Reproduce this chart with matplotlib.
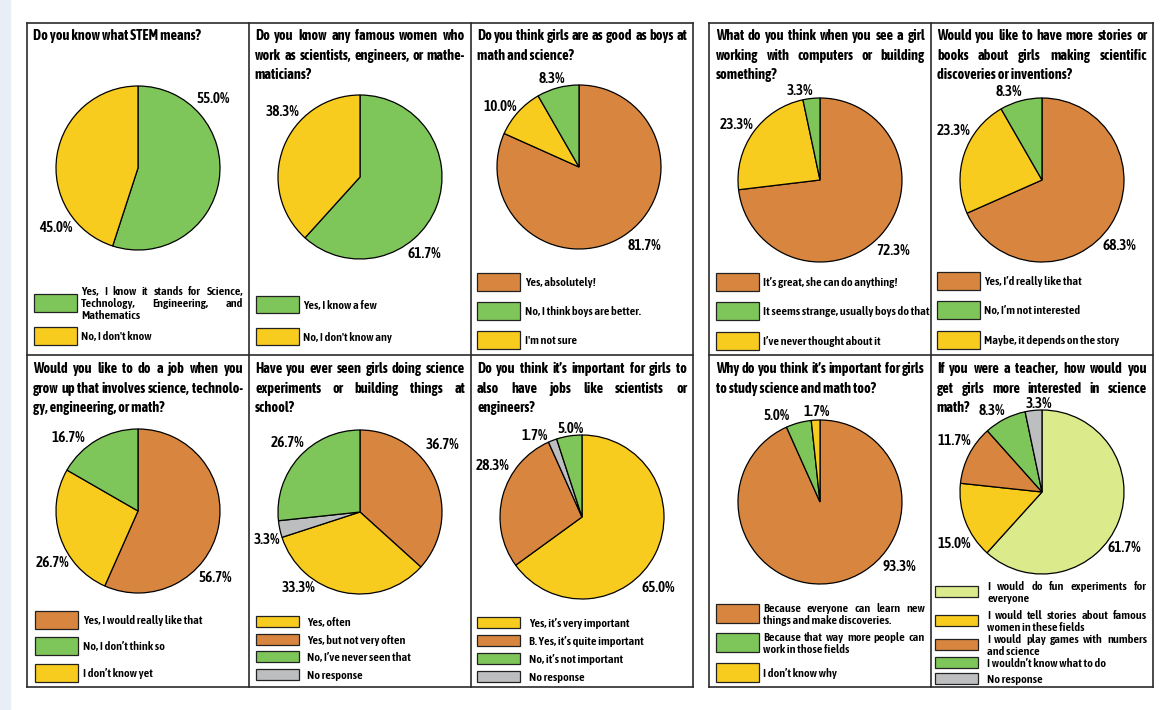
import matplotlib.pyplot as plt
from matplotlib.patches import Rectangle
from matplotlib.lines import Line2D

# ---- data (values in legend order) ----
stem_title = "Do you know what STEM means?"
stem_answers = ["Yes, I know it stands for Science,\nTechnology, Engineering, and\nMathematics", "No, I don't know"]
stem_values = [55.0, 45.0]

women_title = "Do you know any famous women who\nwork as scientists, engineers, or mathe-\nmaticians?"
women_answers = ["Yes, I know a few", "No, I don't know any"]
women_values = [61.7, 38.3]

good_title = "Do you think girls are as good as boys at\nmath and science?"
good_answers = ["Yes, absolutely!", "No, I think boys are better.", "I'm not sure"]
good_values = [81.7, 8.3, 10.0]

see_title = "What do you think when you see a girl\nworking with computers or building\nsomething?"
see_answers = ["It’s great, she can do anything!", "It seems strange, usually boys do that", "I’ve never thought about it"]
see_values = [72.3, 3.3, 23.3]

books_title = "Would you like to have more stories or\nbooks about girls making scientific\ndiscoveries or inventions?"
books_answers = ["Yes, I’d really like that", "No, I’m not interested", "Maybe, it depends on the story"]
books_values = [68.3, 8.3, 23.3]

job_title = "Would you like to do a job when you\ngrow up that involves science, technolo-\ngy, engineering, or math?"
job_answers = ["Yes, I would really like that", "No, I don’t think so", "I don’t know yet"]
job_values = [56.7, 16.7, 26.7]

school_title = "Have you ever seen girls doing science\nexperiments or building things at\nschool?"
school_answers = ["Yes, often", "Yes, but not very often", "No, I’ve never seen that", "No response"]
school_values = [33.3, 36.7, 26.7, 3.3]

important_title = "Do you think it’s important for girls to\nalso have jobs like scientists or\nengineers?"
important_answers = ["Yes, it’s very important", "B. Yes, it’s quite important", "No, it’s not important", "No response"]
important_values = [65.0, 28.3, 5.0, 1.7]

why_title = "Why do you think it’s important for girls\nto study science and math too?"
why_answers = ["Because everyone can learn new\nthings and make discoveries.", "Because that way more people can\nwork in those fields", "I don’t know why"]
why_values = [93.3, 5.0, 1.7]

teacher_title = "If you were a teacher, how would you\nget girls more interested in science\nmath?"
teacher_answers = ["I would do fun experiments for\neveryone", "I would tell stories about famous\nwomen in these fields", "I would play games with numbers\nand science", "I wouldn’t know what to do", "No response"]
teacher_values = [61.7, 15.0, 11.7, 8.3, 3.3]

# ---- style / layout ----
W, H = 1165, 710
OR, GR, YE, GY, LG = "#d8863f", "#7ec55a", "#f8cb1f", "#bdbec0", "#dbea8a"
FONT = ["Asap Condensed", "DejaVu Sans"]
R = 82

charts = [
    dict(title=stem_title, answers=stem_answers, values=stem_values, colors=[GR, YE], order=[0, 1],
         c=(138, 168), tx=(33, 243), ty=35, lab=[(75, -69), (-82, 60)],
         bx=34, tops=[294, 327], bh=18, txt=81),
    dict(title=women_title, answers=women_answers, values=women_values, colors=[GR, YE], order=[0, 1],
         c=(360, 177), tx=(255, 465), ty=35, lab=[(64, 77), (-77, -65)],
         bx=256, tops=[296, 328], bh=17, txt=303),
    dict(title=good_title, answers=good_answers, values=good_values, colors=[OR, GR, YE], order=[0, 2, 1],
         c=(579, 167), tx=(477, 687), ty=35, lab=[(65, 79), (-27, -88), (-79, -60)],
         bx=477, tops=[273, 302, 331], bh=18, txt=525),
    dict(title=see_title, answers=see_answers, values=see_values, colors=[OR, GR, YE], order=[0, 2, 1],
         c=(820, 180), tx=(716, 925), ty=35, lab=[(73, 71), (-20, -89), (-83, -55)],
         bx=716, tops=[273, 302, 332], bh=18, txt=763),
    dict(title=books_title, answers=books_answers, values=books_values, colors=[OR, GR, YE], order=[0, 2, 1],
         c=(1042, 180), tx=(937, 1147), ty=35, lab=[(77, 66), (-33, -88), (-88, -49)],
         bx=937, tops=[272, 301, 331], bh=18, txt=984),
    dict(title=job_title, answers=job_answers, values=job_values, colors=[OR, GR, YE], order=[0, 2, 1],
         c=(138, 511), tx=(33, 243), ty=368, lab=[(77, 67), (-70, -73), (-86, 52)],
         bx=35, tops=[611, 637, 664], bh=18, txt=83),
    dict(title=school_title, answers=school_answers, values=school_values, colors=[YE, OR, GR, GY], order=[1, 0, 3, 2],
         c=(360, 512), tx=(255, 465), ty=368, lab=[(-61, 76), (82, -67), (-73, -69), (-93, 28)],
         bx=256, tops=[616, 634, 651, 669], bh=11, txt=307),
    dict(title=important_title, answers=important_answers, values=important_values, colors=[YE, OR, GR, GY], order=[0, 1, 3, 2],
         c=(582, 517), tx=(477, 687), ty=368, lab=[(76, 71), (-89, -51), (-11, -88), (-47, -81)],
         bx=477, tops=[617, 635, 653, 671], bh=11, txt=529),
    dict(title=why_title, answers=why_answers, values=why_values, colors=[OR, GR, YE], order=[0, 1, 2],
         c=(820, 502), tx=(716, 925), ty=368, lab=[(79, 65), (-43, -86), (-3, -90)],
         bx=716, tops=[604, 633, 663], bh=19, txt=763),
    dict(title=teacher_title, answers=teacher_answers, values=teacher_values, colors=[LG, YE, OR, GR, GY], order=[0, 1, 2, 3, 4],
         c=(1042, 492), tx=(937, 1147), ty=368, lab=[(82, 56), (-88, 52), (-88, -51), (-50, -81), (-3, -88)],
         bx=935, tops=[586, 615, 639, 657, 673], bh=11, txt=987),
]

fig = plt.figure(figsize=(W / 100, H / 100), dpi=100)
fig.patch.set_facecolor("white")
renderer = fig.canvas.get_renderer()


def fx(x):
    return x / W


def fy(y):
    return 1 - y / H


def put_line(x0, x1, y, line, justify, fontsize, **kw):
    # y is the visual middle of the line; drop to the baseline so all words share it
    yb = fy(y + 0.35 * fontsize * 100 / 72)
    words = line.split()
    if not justify or len(words) < 2:
        fig.text(fx(x0), yb, line, ha="left", va="baseline", family=FONT, fontsize=fontsize, **kw)
        return
    arts = [fig.text(fx(x0), yb, w, ha="left", va="baseline", family=FONT, fontsize=fontsize, **kw)
            for w in words]
    widths = [a.get_window_extent(renderer).width for a in arts]
    gap = max((x1 - x0 - sum(widths)) / (len(words) - 1), 2)
    x = x0
    for a, w in zip(arts, widths):
        a.set_x(fx(x))
        x += w + gap


def put_block(x0, x1, yc, text, spacing, **kw):
    lines = text.split("\n")
    y = yc - spacing * (len(lines) - 1) / 2
    for i, ln in enumerate(lines):
        put_line(x0, x1, y, ln, i < len(lines) - 1, **kw)
        y += spacing


# background strip and panel frames
fig.patches.append(Rectangle((0, 0), fx(10), 1, transform=fig.transFigure, color="#e8eef6", zorder=0))


def hline(x0, x1, y):
    fig.add_artist(Line2D([fx(x0), fx(x1)], [fy(y), fy(y)], color="#2b2b2b", lw=1.2))


def vline(x, y0, y1):
    fig.add_artist(Line2D([fx(x), fx(x)], [fy(y0), fy(y1)], color="#2b2b2b", lw=1.2))


for (l, r, mids) in [(27, 693, [249, 471]), (709, 1153, [931])]:
    hline(l, r, 23)
    hline(l, r, 355)
    hline(l, r, 687)
    for x in [l, r] + mids:
        vline(x, 23, 687)

for ch in charts:
    cx, cy = ch["c"]
    # title
    lines = ch["title"].split("\n")
    for i, ln in enumerate(lines):
        put_line(ch["tx"][0], ch["tx"][1], ch["ty"] + 19.5 * i, ln, i < len(lines) - 1,
                 fontsize=10.3, fontweight="bold")

    # pie
    ax = fig.add_axes([fx(cx - R), fy(cy + R), 2 * R / W, 2 * R / H])
    vals = [ch["values"][k] for k in ch["order"]]
    cols = [ch["colors"][k] for k in ch["order"]]
    wedges, _ = ax.pie(vals, colors=cols, startangle=90, counterclock=False,
                       wedgeprops=dict(edgecolor="black", linewidth=0.9))
    for w in wedges:
        w.set_clip_on(False)
    ax.set_xlim(-1, 1)
    ax.set_ylim(-1, 1)
    ax.axis("off")

    # percentage labels
    for v, (dx, dy) in zip(ch["values"], ch["lab"]):
        fig.text(fx(cx + dx), fy(cy + dy), f"{v:.1f}%", ha="center", va="center",
                 family=FONT, fontsize=11, fontweight="semibold")

    # legend
    for ans, col, top in zip(ch["answers"], ch["colors"], ch["tops"]):
        fig.patches.append(Rectangle((fx(ch["bx"]), fy(top + ch["bh"])), 43 / W, ch["bh"] / H,
                                     transform=fig.transFigure, facecolor=col,
                                     edgecolor="#222222", lw=0.9))
        put_block(ch["txt"], ch["tx"][1], top + ch["bh"] / 2, ans, 12,
                  fontsize=8.8, fontweight="semibold")

fig.savefig("out.png", dpi=100)
